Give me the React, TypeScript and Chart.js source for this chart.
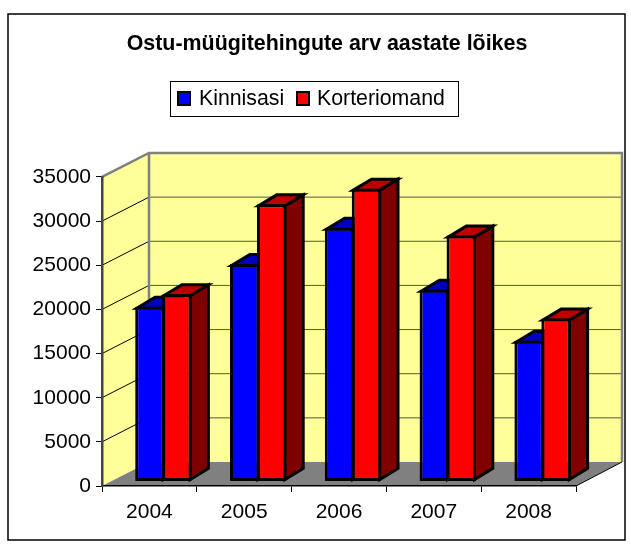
import React, { useEffect, useRef } from "react";
import { Chart, registerables } from "chart.js";

Chart.register(...registerables);

const chartTitle = "Ostu-müügitehingute arv aastate lõikes";
const categories = ["2004", "2005", "2006", "2007", "2008"];
const kinnisasi = [19800, 24630, 28750, 21720, 15940];
const korteriomand = [21200, 31390, 33170, 27850, 18450];
const FONT = '"Liberation Sans", Arial, sans-serif';

const WALL_DX = 47, WALL_DY = -24, RIGHT_WALL = 622;
const BAR_SHIFT_X = 14, BAR_SHIFT_Y = -4.5, BAR_DX = 18.3, BAR_DY = -11;

const scene = {
  id: "scene",
  afterLayout(chart: any) {
    chart.titleBlock.left = 78;
  },
  beforeDraw(chart: any) {
    const { ctx, width, height } = chart;
    const y = chart.scales.y, x = chart.scales.x;
    const L = x.left, R = x.right, T = y.top, B = y.bottom;
    ctx.save();
    ctx.fillStyle = "#fff";
    ctx.fillRect(0, 0, width, height);
    ctx.strokeStyle = "#000";
    ctx.lineWidth = 1.5;
    ctx.strokeRect(8, 14, 617, 526);
    const poly = (pts: number[][], fill: string) => {
      ctx.beginPath();
      pts.forEach((p, i) => (i ? ctx.lineTo(p[0], p[1]) : ctx.moveTo(p[0], p[1])));
      ctx.closePath();
      ctx.fillStyle = fill;
      ctx.fill();
    };
    const bx = L + WALL_DX;
    poly([[L, T], [bx, T + WALL_DY], [RIGHT_WALL, T + WALL_DY], [RIGHT_WALL, B + WALL_DY], [bx, B + WALL_DY], [L, B]], "#FFFF99");
    poly([[L, B], [bx, B + WALL_DY], [RIGHT_WALL, B + WALL_DY], [R, B]], "#808080");
    ctx.lineWidth = 1;
    y.ticks.forEach((t: any) => {
      if (t.value === 0 || t.value === y.max) return;
      const py = y.getPixelForValue(t.value);
      ctx.strokeStyle = "#000";
      ctx.beginPath();
      ctx.moveTo(L, py);
      ctx.lineTo(bx, py + WALL_DY);
      ctx.stroke();
      ctx.strokeStyle = "#555";
      ctx.beginPath();
      ctx.moveTo(bx, py + WALL_DY);
      ctx.lineTo(RIGHT_WALL, py + WALL_DY);
      ctx.stroke();
    });
    ctx.strokeStyle = "#808080";
    ctx.lineWidth = 2.5;
    ctx.beginPath();
    ctx.moveTo(L, T);
    ctx.lineTo(bx, T + WALL_DY);
    ctx.lineTo(RIGHT_WALL, T + WALL_DY);
    ctx.lineTo(RIGHT_WALL, B + WALL_DY);
    ctx.moveTo(bx, T + WALL_DY);
    ctx.lineTo(bx, B + WALL_DY);
    ctx.stroke();
    ctx.strokeStyle = "#000";
    ctx.lineWidth = 1;
    ctx.beginPath();
    ctx.moveTo(R, B);
    ctx.lineTo(RIGHT_WALL, B + WALL_DY);
    ctx.stroke();
    ctx.restore();
  },
  beforeDatasetsDraw(chart: any) {
    const { ctx } = chart;
    ctx.save();
    ctx.translate(BAR_SHIFT_X, BAR_SHIFT_Y);
    ctx.lineJoin = "miter";
    ctx.strokeStyle = "#000";
    ctx.lineWidth = 3;
    chart.data.datasets.forEach((ds: any, i: number) => {
      chart.getDatasetMeta(i).data.forEach((el: any) => {
        const r = el.x + el.width / 2 - 1.5, l = el.x - el.width / 2 + 1.5, t = el.y + 1.5, b = el.base - 1.5;
        ctx.beginPath();
        ctx.moveTo(r, t);
        ctx.lineTo(r + BAR_DX, t + BAR_DY);
        ctx.lineTo(r + BAR_DX, b + BAR_DY);
        ctx.lineTo(r, b);
        ctx.closePath();
        ctx.fillStyle = ds.sideColor;
        ctx.fill();
        ctx.stroke();
        ctx.beginPath();
        ctx.moveTo(l, t);
        ctx.lineTo(l + BAR_DX, t + BAR_DY);
        ctx.lineTo(r + BAR_DX, t + BAR_DY);
        ctx.lineTo(r, t);
        ctx.closePath();
        ctx.fillStyle = ds.topColor;
        ctx.fill();
        ctx.stroke();
      });
    });
    ctx.restore();
  },
  beforeDatasetDraw(chart: any) {
    chart.ctx.save();
    chart.ctx.translate(BAR_SHIFT_X, BAR_SHIFT_Y);
  },
  afterDatasetDraw(chart: any) {
    chart.ctx.restore();
  },
  afterDraw(chart: any) {
    const { ctx } = chart;
    ctx.save();
    ctx.strokeStyle = "#000";
    ctx.lineWidth = 1;
    ctx.fillStyle = "#fff";
    ctx.fillRect(170.5, 81.5, 288, 35);
    ctx.strokeRect(170.5, 81.5, 288, 35);
    const swatchX = [177, 296];
    const textX = [199, 317];
    ctx.font = `21.3px ${FONT}`;
    ctx.textBaseline = "middle";
    chart.data.datasets.forEach((ds: any, i: number) => {
      ctx.fillStyle = ds.backgroundColor;
      ctx.fillRect(swatchX[i] + 1, 92, 12, 13);
      ctx.lineWidth = 2;
      ctx.strokeRect(swatchX[i] + 1, 92, 12, 13);
      ctx.fillStyle = "#000";
      ctx.fillText(ds.label, textX[i], 99);
    });
    ctx.restore();
  },
};

export default function App() {
  const ref = useRef<HTMLCanvasElement>(null);
  useEffect(() => {
    document.body.style.margin = "0";
    const barOpts = {
      categoryPercentage: 0.5686,
      barPercentage: 1.093,
      borderColor: "#000",
      borderWidth: 3,
      borderSkipped: false,
      inflateAmount: 0,
      clip: false,
    };
    const chart = new Chart(ref.current!, {
      type: "bar",
      data: {
        labels: categories,
        datasets: [
          { label: "Kinnisasi", data: kinnisasi, backgroundColor: "#0000FF", sideColor: "#000080", topColor: "#0000BF", ...barOpts },
          { label: "Korteriomand", data: korteriomand, backgroundColor: "#FF0000", sideColor: "#800000", topColor: "#BF0000", ...barOpts },
        ] as any,
      },
      options: {
        responsive: false,
        animation: false,
        layout: { padding: { left: 0, right: 55, top: 0, bottom: 0 } },
        plugins: {
          legend: { display: false },
          tooltip: { enabled: false },
          title: {
            display: true,
            text: chartTitle,
            color: "#000",
            font: { family: FONT, size: 21.4, weight: "bold", lineHeight: 1.2 },
            padding: { top: 31, bottom: 120.3 },
          },
        },
        scales: {
          x: {
            afterFit: (s: any) => { s.height = 61; },
            grid: { drawOnChartArea: false, drawTicks: true, tickLength: 6, color: "#000", offset: true },
            border: { color: "#000", width: 1.5 },
            ticks: { color: "#000", font: { family: FONT, size: 21 }, padding: 8, maxRotation: 0 },
          },
          y: {
            min: 0,
            max: 35000,
            afterFit: (s: any) => { s.width = 102; },
            grid: { drawOnChartArea: false, drawTicks: true, tickLength: 6, color: "#000" },
            border: { color: "#444", width: 2.5 },
            ticks: {
              stepSize: 5000,
              color: "#000",
              font: { family: FONT, size: 21 },
              padding: 5,
              callback: (v: any) => String(v),
            },
          },
        },
      } as any,
      plugins: [scene],
    });
    return () => chart.destroy();
  }, []);
  return (
    <div style={{ position: "absolute", left: 0, top: 0, width: 631, height: 547 }}>
      <canvas ref={ref} width={631} height={547} style={{ display: "block" }} />
    </div>
  );
}
